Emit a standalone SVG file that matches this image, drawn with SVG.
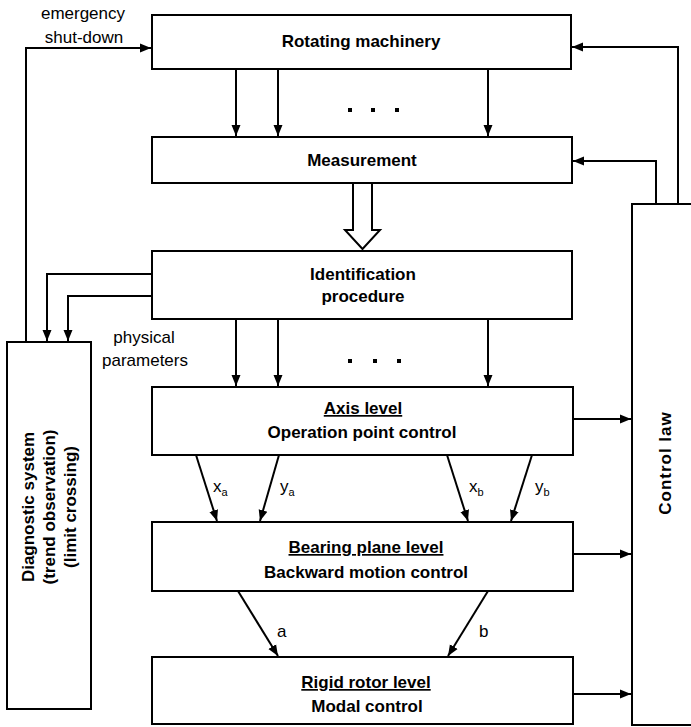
<svg xmlns="http://www.w3.org/2000/svg" width="691" height="727" viewBox="0 0 691 727">
<style>
.box{fill:#fff;stroke:#000;stroke-width:2}
.ln{fill:none;stroke:#000;stroke-width:2}
.ar{fill:none;stroke:#000;stroke-width:2;marker-end:url(#ah)}
text{font-family:"Liberation Sans",Arial,sans-serif;fill:#000}
.b{font-weight:bold;font-size:17px;text-anchor:middle}
.r{font-size:17px;text-anchor:middle}
.u{text-decoration:underline}
.dot{fill:#000}
</style>
<defs>
<marker id="ah" markerUnits="userSpaceOnUse" markerWidth="12" markerHeight="10" refX="11" refY="5" orient="auto">
<path d="M0,0.5 L11,5 L0,9.5 z" fill="#000"/>
</marker>
</defs>
<rect width="691" height="727" fill="#fff"/>

<g id="connectors">
<polyline class="ar" points="26,342 26,48 151,48"/>
<polyline class="ar" points="678,204 678,47 572,47"/>
<polyline class="ar" points="656,204 656,161 573,161"/>
<line class="ar" x1="236" y1="69" x2="236" y2="136"/>
<line class="ar" x1="278" y1="69" x2="278" y2="136"/>
<line class="ar" x1="488" y1="69" x2="488" y2="136"/>
<polygon points="353,183 372,183 372,230 380,230 362.5,249 345,230 353,230" fill="#fff" stroke="#000" stroke-width="2"/>
<polyline class="ar" points="152,274 47,274 47,341"/>
<polyline class="ar" points="152,296 68,296 68,341"/>
<line class="ar" x1="236" y1="319" x2="236" y2="386"/>
<line class="ar" x1="278" y1="319" x2="278" y2="386"/>
<line class="ar" x1="488" y1="319" x2="488" y2="386"/>
<line class="ar" x1="196" y1="455" x2="217" y2="521"/>
<line class="ar" x1="279" y1="455" x2="260" y2="521"/>
<line class="ar" x1="447" y1="455" x2="468" y2="521"/>
<line class="ar" x1="532" y1="455" x2="511" y2="521"/>
<line class="ar" x1="238" y1="591" x2="278" y2="656"/>
<line class="ar" x1="488" y1="591" x2="448" y2="656"/>
<line class="ar" x1="573" y1="419" x2="631" y2="419"/>
<line class="ar" x1="573" y1="554" x2="631" y2="554"/>
<line class="ar" x1="573" y1="694" x2="631" y2="694"/>
<rect class="dot" x="348" y="108" width="4" height="4"/>
<rect class="dot" x="371" y="108" width="4" height="4"/>
<rect class="dot" x="395" y="108" width="4" height="4"/>
<rect class="dot" x="348" y="359" width="4" height="4"/>
<rect class="dot" x="373" y="359" width="4" height="4"/>
<rect class="dot" x="397" y="359" width="4" height="4"/>
<text class="r" x="83" y="19">emergency</text>
<text class="r" x="84" y="43">shut-down</text>
<text class="r" x="144" y="343">physical</text>
<text class="r" x="145" y="366">parameters</text>
<text x="213" y="492" font-size="17">x<tspan font-size="11" dy="4">a</tspan></text>
<text x="280" y="492" font-size="17">y<tspan font-size="11" dy="4">a</tspan></text>
<text x="469" y="492" font-size="17">x<tspan font-size="11" dy="4">b</tspan></text>
<text x="535" y="492" font-size="17">y<tspan font-size="11" dy="4">b</tspan></text>
<text x="277" y="637" font-size="17">a</text>
<text x="479" y="637" font-size="17">b</text>
</g>

<g id="rotating-machinery">
<rect class="box" x="152" y="15" width="419" height="54"/>
<text class="b" x="361" y="47">Rotating machinery</text>
</g>

<g id="measurement">
<rect class="box" x="152" y="137" width="420" height="46"/>
<text class="b" x="362" y="166">Measurement</text>
</g>

<g id="identification">
<rect class="box" x="152" y="251" width="420" height="68"/>
<text class="b" x="363" y="280">Identification</text>
<text class="b" x="363" y="302">procedure</text>
</g>

<g id="axis-level">
<rect class="box" x="152" y="387" width="421" height="68"/>
<text class="b u" x="363" y="414">Axis level</text>
<text class="b" x="362" y="438">Operation point control</text>
</g>

<g id="bearing-plane-level">
<rect class="box" x="152" y="522" width="421" height="69"/>
<text class="b u" x="366" y="553">Bearing plane level</text>
<text class="b" x="366" y="578">Backward motion control</text>
</g>

<g id="rigid-rotor-level">
<rect class="box" x="152" y="657" width="421" height="67"/>
<text class="b u" x="366" y="688">Rigid rotor level</text>
<text class="b" x="367" y="712">Modal control</text>
</g>

<g id="diagnostic-system">
<rect class="box" x="7" y="342" width="84" height="367"/>
<text class="b" font-size="16" transform="translate(34,507) rotate(-90)">Diagnostic system</text>
<text class="b" font-size="16" transform="translate(55,507) rotate(-90)">(trend observation)</text>
<text class="b" font-size="16" transform="translate(76,507) rotate(-90)">(limit crossing)</text>
</g>

<g id="control-law">
<rect class="box" x="632" y="204" width="80" height="521"/>
<text class="b" font-size="18" letter-spacing="1" transform="translate(671,463) rotate(-90)">Control law</text>
</g>
</svg>
